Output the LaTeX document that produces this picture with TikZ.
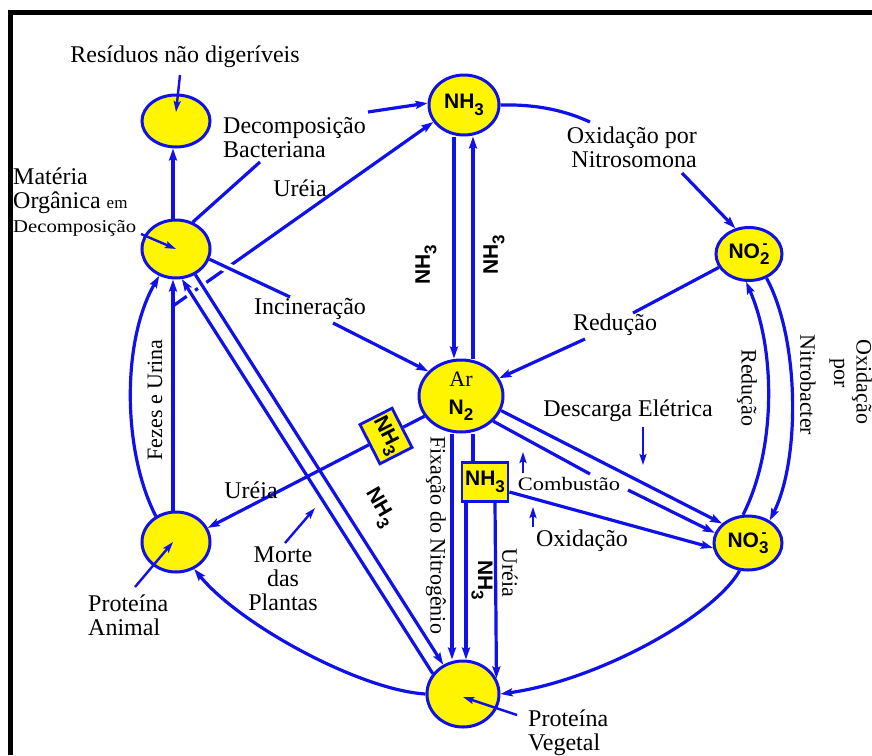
\documentclass[tikz,border=0pt]{standalone}
\usepackage{fontspec}
\usepackage{graphicx}
\setmainfont{Liberation Serif}
\newfontfamily\chemfont{Liberation Sans}
\usetikzlibrary{arrows.meta,shapes.geometric}
\pgfdeclarelayer{front}
\pgfdeclarelayer{top}
\pgfsetlayers{main,front,top}
\definecolor{cycleblue}{RGB}{16,16,235}
\definecolor{poolyellow}{RGB}{255,245,0}
% bold sans chemical formulas with large, lowered indices
\newcommand\chem[1]{{\chemfont\bfseries\fontsize{21}{21}\selectfont #1}}
\newcommand\lowsub[1]{\raisebox{-0.3em}{\fontsize{17}{17}\selectfont #1}}
\newcommand\ionsub[2]{\rlap{\raisebox{0.45em}{\fontsize{15}{15}\selectfont\,#2}}\raisebox{-0.3em}{\fontsize{17}{17}\selectfont #1}}

\begin{document}
\begin{tikzpicture}[x=1pt, y=-1pt,
  font=\fontsize{24}{24}\selectfont,
  pool/.style={ellipse, draw=cycleblue, fill=poolyellow, line width=3pt, inner sep=0pt},
  tag/.style={rectangle, draw=cycleblue, fill=poolyellow, line width=2.8pt, inner sep=0pt,
    minimum width=44pt, minimum height=36pt, font=\chemfont\bfseries\fontsize{21}{21}\selectfont},
  flow/.style={draw=cycleblue, line width=3.2pt},
  arr/.style={flow, -{Stealth[length=12pt,width=8pt,inset=2pt]}},
  pointer/.style={draw=cycleblue, line width=2.4pt, -{Stealth[length=11pt,width=7pt,inset=2pt]}},
  bridge/.style 2 args={preaction={draw=white, line width=10pt, arrows=-, shorten <=#1, shorten >=#2}},
  lbl/.style={inner sep=0pt, text=black},
  sidelbl/.style={lbl, font=\fontsize{22}{22}\selectfont},
  chemlbl/.style={inner sep=0pt, font=\chemfont\bfseries\fontsize{21}{21}\selectfont}
]
\fill[white] (0,0) rectangle (872,755);
\useasboundingbox (0,0) rectangle (872,755);
% frame
\draw[line width=5pt] (10.5,755) -- (10.5,12.5) -- (872,12.5);

\begin{pgfonlayer}{front}
% nitrogen pools
\node[pool, minimum width=68pt, minimum height=52pt] (resid) at (176,121) {};
\node[pool, minimum width=68pt, minimum height=58pt] (materia) at (176,249) {};
\node[pool, minimum width=70pt, minimum height=60pt] (nh3) at (464,105) {\chem{NH\lowsub{3}}};
\node[pool, minimum width=66pt, minimum height=53pt] (no2) at (749,254) {\chem{NO\ionsub{2}{-}}};
\node[pool, minimum width=84pt, minimum height=72pt, align=center] (n2) at (461,396)
  {{\fontsize{22}{22}\selectfont Ar}\\[4pt]\chem{N\lowsub{2}}};
\node[pool, minimum width=68pt, minimum height=54pt] (no3) at (748,543) {\chem{NO\ionsub{3}{-}}};
\node[pool, minimum width=68pt, minimum height=60pt] (animal) at (176,542) {};
\node[pool, minimum width=72pt, minimum height=66pt] (veg) at (463,694) {};
\node[tag, rotate=-63] (box1) at (386,436) {NH\lowsub{3}};
\node[tag, minimum width=46pt, minimum height=39pt] (box2) at (485,482) {NH\lowsub{3}};

% labels
\node[lbl] (reslbl) at (185,57) {Resíduos não digeríveis};
\node[lbl, align=left, anchor=west] (decomplbl) at (223,138) {Decomposição\\Bacteriana};
\node[lbl] (ureialbl) at (300,188) {Uréia};
\node[lbl, align=left, anchor=west] (matlbl) at (13,202)
  {Matéria\\Orgânica {\fontsize{17}{17}\selectfont em}\\\scalebox{1.15}[1]{\fontsize{18}{18}\selectfont Decomposição}};
\node[lbl] (incinlbl) at (310,309) {Incineração};
\node[lbl] (redlbl) at (615,325) {Redução};
\node[lbl, align=right, anchor=east] (nitrolbl) at (697,147) {Oxidação por\\Nitrosomona};
\node[lbl] (desclbl) at (628,411) {Descarga Elétrica};
\node[lbl] (comblbl) at (569,484) {\scalebox{1.18}[1]{\fontsize{19}{19}\selectfont Combustão}};
\node[lbl] (oxlbl) at (582,541) {Oxidação};
\node[lbl] (ureia2lbl) at (251,490) {Uréia};
\node[sidelbl, rotate=90] (fezeslbl) at (155,400) {Fezes e Urina};
\node[sidelbl, rotate=-90] (fixlbl) at (436,535) {Fixação do Nitrogênio};
\node[chemlbl, rotate=-90] (nh3lblV) at (482,580) {NH\lowsub{3}};
\node[sidelbl, rotate=-90] (ureia3lbl) at (510,573) {Uréia};
\node[chemlbl, rotate=-60] (nh3lblD) at (379,508) {NH\lowsub{3}};
\node[chemlbl, rotate=90] (nh3lblL) at (426,265) {NH\lowsub{3}};
\node[chemlbl, rotate=90] (nh3lblR) at (494,255) {NH\lowsub{3}};
\node[lbl, align=center] (mortelbl) at (283,579) {Morte\\das\\Plantas};
\node[lbl, align=left, anchor=west] (animlbl) at (88,615) {Proteína\\Animal};
\node[lbl, align=left, anchor=west] (veglbl) at (528,733) {Proteína\\Vegetal};
\node[sidelbl, rotate=-90] (red2lbl) at (747,388) {Redução};
\node[sidelbl, rotate=-90] (nitrobaclbl) at (808,385) {Nitrobacter};
\node[sidelbl, rotate=-90] (porlbl) at (837,373) {por};
\node[sidelbl, rotate=-90] (oxid2lbl) at (862,382) {Oxidação};
\end{pgfonlayer}

% free ends of broken connectors and pointer arrows
\coordinate (decA) at (260,162);   \coordinate (decB) at (368,112);
\coordinate (incA) at (290,297);   \coordinate (incB) at (333,323);
\coordinate (nitA) at (590,122);   \coordinate (nitB) at (682,173);
\coordinate (redA) at (633,313);   \coordinate (redB) at (585,339);
\coordinate (combA) at (590,474);  \coordinate (combB) at (628,490);
\coordinate (ureiaFoot) at (173,306);
\coordinate (resTail) at (180,75);
\coordinate (matTail) at (141,234);
\coordinate (aniTail) at (135,587);
\coordinate (vegTail) at (517,715);
\coordinate (morteTail) at (285,543); \coordinate (morteTip) at (315,508);
\coordinate (descTail) at (643,427);  \coordinate (descTip) at (643,465);
\coordinate (combTail) at (523,473);  \coordinate (combTip) at (523,452);
\coordinate (oxTail) at (533,527);    \coordinate (oxTip) at (533,507);

% urea line first: the crossing lines cut gaps into it
\draw[arr] (ureiaFoot) -- (nh3.209);
\draw[flow, bridge={6pt}{6pt}] (materia.-17) -- (incA);
\draw[arr, bridge={10pt}{3pt}] (veg.146) -- (materia.281);
\draw[arr, bridge={3pt}{10pt}] (materia.-53) -- (veg.124);

% decomposition and incineration
\draw[flow] (materia.58) -- (decA);
\draw[arr] (decB) -- (nh3.177);
\draw[arr] (incB) -- (n2.143);
\draw[arr] ([xshift=-3pt]materia.north) -- ([xshift=-3pt]resid.south);
\draw[arr] ([xshift=-3pt]animal.north) -- ([xshift=-3pt]materia.south);
\draw[arr] (animal.128) .. controls (122,450) and (122,340) .. (materia.238);

% ammonia <-> air
\draw[arr] ([xshift=-10pt]nh3.south) -- ([xshift=-10pt]nh3.south |- n2.north);
\draw[arr] ([xshift=9pt]nh3.south |- n2.north) -- ([xshift=9pt]nh3.south);

% nitrification and reduction
\draw[flow] (nh3.0) .. controls (540,104) and (568,112) .. (nitA);
\draw[arr] (nitB) -- (no2.118);
\draw[flow] (no2.204) -- (redA);
\draw[arr] (redB) -- (n2.25);
\draw[arr] (no2.-54) .. controls (800,340) and (800,460) .. (no3.46);
\draw[arr] (no3.100) .. controls (776,450) and (776,350) .. (no2.264);

% air -> nitrate
\draw[arr] (n2.-20) -- (no3.143);
\draw[flow] (n2.-38) -- (combA);
\draw[arr] (combB) -- (no3.163);
\draw[arr] ([yshift=-10pt]box2.east) -- (no3.188);

% fixation and plant uptake
\draw[flow] ([xshift=12pt]n2.south) -- ([xshift=-12pt]box2.north);
\draw[arr] ([xshift=-9pt]n2.south) -- ([xshift=-11pt]veg.north);
\draw[arr] ([xshift=-19pt]box2.south) -- ([xshift=3pt]veg.north);
\draw[arr] ([xshift=10pt]box2.south) -- (veg.25);

% urea to animal protein
\draw[flow] (n2.209) -- (box1);
\draw[arr] (box1) -- (animal.24);

% outer cycle
\draw[arr] (veg.180) .. controls (360,690) and (240,625) .. (animal.-56);
\draw[arr] (no3.253) .. controls (715,615) and (600,680) .. (veg.0);

\begin{pgfonlayer}{top}
\draw[pointer] (resTail) -- ([yshift=9pt]resid.center);
\draw[pointer] (matTail) -- (materia.center);
\draw[pointer] (aniTail) -- ([xshift=-3pt]animal.center);
\draw[pointer] (vegTail) -- ([yshift=-3pt]veg.center);
\draw[pointer] (morteTail) -- (morteTip);
\draw[pointer] (descTail) -- (descTip);
\draw[pointer] (combTail) -- (combTip);
\draw[pointer] (oxTail) -- (oxTip);
\end{pgfonlayer}
\end{tikzpicture}
\end{document}
